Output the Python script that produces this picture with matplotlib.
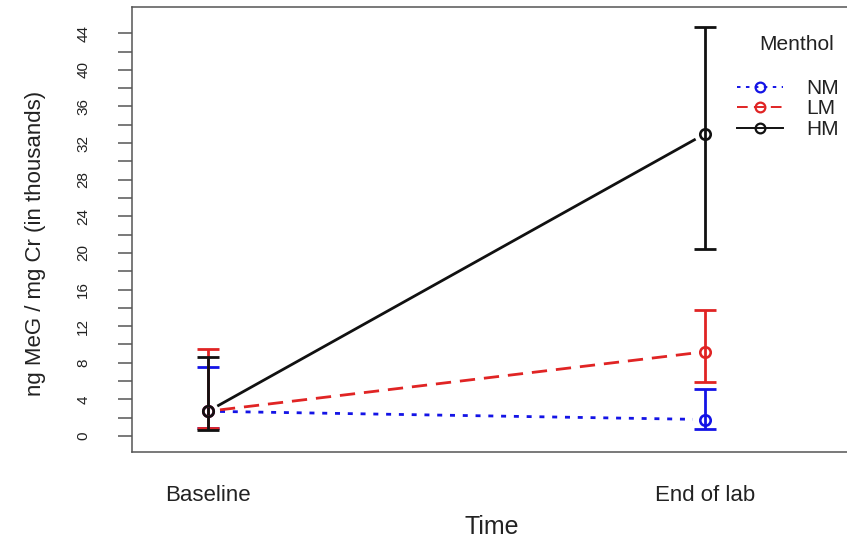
import numpy as np
import matplotlib
matplotlib.use('Agg')
import matplotlib.pyplot as plt
from matplotlib.lines import Line2D


time_labels = ['Baseline', 'End of lab']
groups = ['NM', 'LM', 'HM']

# means and error bar limits (ng MeG / mg Cr, thousands)
nm_mean = [2.7, 1.8]
nm_low = [0.9, 0.75]
nm_high = [7.5, 5.1]

lm_mean = [2.7, 9.2]
lm_low = [0.9, 5.9]
lm_high = [9.5, 13.8]

hm_mean = [2.7, 33.0]
hm_low = [0.6, 20.4]
hm_high = [8.6, 44.7]

y_ticks = list(range(0, 45, 2))
y_ticklabels = [str(t) if t % 4 == 0 else '' for t in y_ticks]

colors = {'NM': '#1414e6', 'LM': '#e02424', 'HM': '#111111'}
dashes = {'NM': (1.8, 2.8), 'LM': (5.5, 3.2), 'HM': None}

plt.rcParams['font.family'] = ['Liberation Sans', 'DejaVu Sans']

fig = plt.figure(figsize=(8.47, 5.45), dpi=100)
ax = fig.add_axes([132 / 847, 93 / 545, 715 / 847, 445 / 545])

ax.set_xlim(0.847, 2.286)
ax.set_ylim(-1.75, 46.87)

x = np.array([1, 2])
series = {
    'NM': (nm_mean, nm_low, nm_high),
    'LM': (lm_mean, lm_low, lm_high),
    'HM': (hm_mean, hm_low, hm_high),
}


def gap_segment(x0, y0, x1, y1, gap_px):
    # shorten a segment at both ends in screen space (R type="b" look)
    p0 = ax.transData.transform((x0, y0))
    p1 = ax.transData.transform((x1, y1))
    d = p1 - p0
    u = d / np.hypot(*d)
    q0 = p0 + u * gap_px
    q1 = p1 - u * gap_px
    inv = ax.transData.inverted()
    a = inv.transform(q0)
    b = inv.transform(q1)
    return [a[0], b[0]], [a[1], b[1]]


for g in groups:
    mean, low, high = series[g]
    mean = np.array(mean)
    yerr = [mean - np.array(low), np.array(high) - mean]
    ax.errorbar(x, mean, yerr=yerr, fmt='none', ecolor=colors[g],
                elinewidth=2.0, capsize=8, capthick=2.0, zorder=3)
    ax.plot(x, mean, 'o', ms=7.5, mfc='none', mec=colors[g], mew=1.9, zorder=4)
    sx, sy = gap_segment(x[0], mean[0], x[1], mean[1], 12)
    ln, = ax.plot(sx, sy, color=colors[g], lw=2.0, zorder=2)
    if dashes[g]:
        ln.set_dashes(dashes[g])

ax.set_yticks(y_ticks)
ax.set_yticklabels(y_ticklabels, rotation=90, va='center', fontsize=11, color='#222222')
ax.tick_params(axis='y', length=10, width=1.1, color='#555555', pad=20)
ax.set_xticks(x)
ax.set_xticklabels(time_labels, fontsize=16, color='#222222')
ax.tick_params(axis='x', length=0, pad=24)

for side in ['left', 'bottom', 'top']:
    ax.spines[side].set_color('#555555')
    ax.spines[side].set_linewidth(1.1)
ax.spines['right'].set_visible(False)

fig.text(35 / 847, 1 - 243 / 545, 'ng MeG / mg Cr (in thousands)', rotation=90,
         ha='center', va='center', fontsize=16, color='#222222')
fig.text(492 / 847, 1 - 527 / 545, 'Time', ha='center', va='center',
         fontsize=18, color='#222222')

# legend
handles = []
for g in groups:
    h = Line2D([0], [0], color=colors[g], lw=1.4, marker='o', ms=7,
               mfc='none', mec=colors[g], mew=1.6)
    if dashes[g]:
        h.set_dashes(dashes[g])
    handles.append(h)
fig.text(797 / 847, 1 - 44 / 545, 'Menthol', ha='center', va='center',
         fontsize=15, color='#222222')
leg = ax.legend(handles, groups, loc='upper left', frameon=False,
                bbox_to_anchor=(737 / 847, 1 - 79 / 545),
                bbox_transform=fig.transFigure, borderpad=0, borderaxespad=0,
                handlelength=2.2, handletextpad=1.1, labelspacing=0.07,
                fontsize=15)
for t in leg.get_texts():
    t.set_color('#222222')

fig.savefig('out.png', dpi=100)
